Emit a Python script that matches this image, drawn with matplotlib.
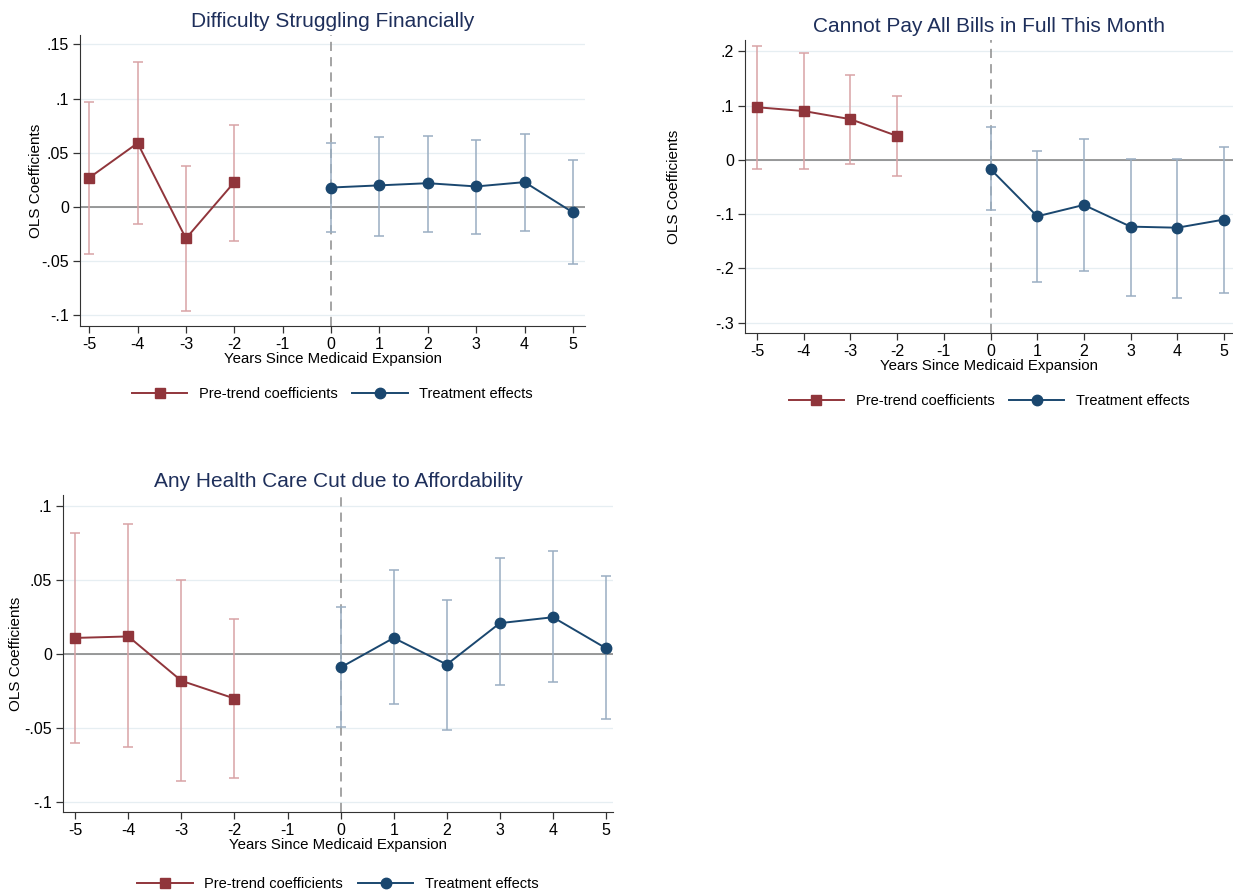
import numpy as np
import matplotlib.pyplot as plt

plt.rcParams["font.family"] = ["Liberation Sans", "DejaVu Sans"]

pre_years = [-5, -4, -3, -2]
post_years = [0, 1, 2, 3, 4, 5]
xticks = [-5, -4, -3, -2, -1, 0, 1, 2, 3, 4, 5]

# panel 1: Difficulty Struggling Financially
fin_pre = [0.027, 0.059, -0.029, 0.023]
fin_pre_lo = [-0.043, -0.016, -0.096, -0.031]
fin_pre_hi = [0.097, 0.134, 0.038, 0.076]
fin_post = [0.018, 0.020, 0.022, 0.019, 0.023, -0.005]
fin_post_lo = [-0.023, -0.027, -0.023, -0.025, -0.022, -0.053]
fin_post_hi = [0.059, 0.065, 0.066, 0.062, 0.067, 0.043]

# panel 2: Cannot Pay All Bills in Full This Month
bills_pre = [0.097, 0.090, 0.075, 0.044]
bills_pre_lo = [-0.016, -0.016, -0.008, -0.029]
bills_pre_hi = [0.209, 0.197, 0.157, 0.117]
bills_post = [-0.017, -0.104, -0.083, -0.123, -0.125, -0.110]
bills_post_lo = [-0.093, -0.225, -0.204, -0.250, -0.255, -0.246]
bills_post_hi = [0.061, 0.017, 0.038, 0.002, 0.002, 0.023]

# panel 3: Any Health Care Cut due to Affordability
hc_pre = [0.011, 0.012, -0.018, -0.030]
hc_pre_lo = [-0.060, -0.063, -0.086, -0.084]
hc_pre_hi = [0.082, 0.088, 0.050, 0.024]
hc_post = [-0.009, 0.011, -0.007, 0.021, 0.025, 0.004]
hc_post_lo = [-0.049, -0.034, -0.051, -0.021, -0.019, -0.044]
hc_post_hi = [0.032, 0.057, 0.037, 0.065, 0.070, 0.053]

red = "#90353b"
red_ci = "#d9a3a6"
blue = "#1a476f"
blue_ci = "#9aaec2"
title_col = "#1e2f5b"


def event_plot(ax, title, pre, pre_lo, pre_hi, post, post_lo, post_hi, yticks, ylabels, ylim, xlim, ypad):
    for v in yticks:
        ax.axhline(v, color="#e6eef2", lw=0.9, zorder=0)
    ax.axhline(0, color="#7f7f7f", lw=1.1, zorder=1)
    ax.axvline(0, color="#8c8c8c", lw=1.1, ls=(0, (6, 4)), zorder=1)
    pre = np.array(pre)
    post = np.array(post)
    ax.errorbar(pre_years, pre, yerr=[pre - np.array(pre_lo), np.array(pre_hi) - pre],
                fmt="none", ecolor=red_ci, elinewidth=1.1, capsize=3.5, capthick=1.1, zorder=2)
    ax.errorbar(post_years, post, yerr=[post - np.array(post_lo), np.array(post_hi) - post],
                fmt="none", ecolor=blue_ci, elinewidth=1.1, capsize=3.5, capthick=1.1, zorder=2)
    ax.plot(pre_years, pre, color=red, marker="s", ms=7.5, lw=1.4, zorder=3,
            label="Pre-trend coefficients")
    ax.plot(post_years, post, color=blue, marker="o", ms=7.5, lw=1.4, zorder=3,
            label="Treatment effects")
    ax.set_xlim(xlim)
    ax.set_ylim(ylim)
    ax.set_xticks(xticks)
    ax.set_xticklabels([str(t) for t in xticks])
    ax.set_yticks(yticks)
    ax.set_yticklabels(ylabels)
    ax.tick_params(axis="both", labelsize=11.5, length=5, width=0.9, color="#333333", pad=3)
    ax.spines["top"].set_visible(False)
    ax.spines["right"].set_visible(False)
    ax.spines["left"].set_color("#333333")
    ax.spines["bottom"].set_color("#333333")
    ax.set_title(title, fontsize=15, color=title_col, pad=6)
    ax.set_xlabel("Years Since Medicaid Expansion", fontsize=10.8, labelpad=0)
    ax.set_ylabel("OLS Coefficients", fontsize=11, labelpad=ypad)
    leg = ax.legend(loc="upper center", bbox_to_anchor=(0.5, -0.165), ncol=2, frameon=False,
                    fontsize=10.5, handlelength=3.8, columnspacing=1.0, handletextpad=0.8)
    return leg


fig = plt.figure(figsize=(12.33, 8.92), dpi=100)

ax1 = fig.add_axes([0.0649, 0.6345, 0.4096, 0.3262])
event_plot(ax1, "Difficulty Struggling Financially",
           fin_pre, fin_pre_lo, fin_pre_hi, fin_post, fin_post_lo, fin_post_hi,
           [-0.1, -0.05, 0, 0.05, 0.1, 0.15], ["-.1", "-.05", "0", ".05", ".1", ".15"],
           (-0.1098, 0.1587), (-5.19, 5.25), -1)

ax2 = fig.add_axes([0.6042, 0.6267, 0.396, 0.3285])
event_plot(ax2, "Cannot Pay All Bills in Full This Month",
           bills_pre, bills_pre_lo, bills_pre_hi, bills_post, bills_post_lo, bills_post_hi,
           [-0.3, -0.2, -0.1, 0, 0.1, 0.2], ["-.3", "-.2", "-.1", "0", ".1", ".2"],
           (-0.319, 0.221), (-5.26, 5.2), 24.5)

ax3 = fig.add_axes([0.0511, 0.0897, 0.446, 0.355])
event_plot(ax3, "Any Health Care Cut due to Affordability",
           hc_pre, hc_pre_lo, hc_pre_hi, hc_post, hc_post_lo, hc_post_hi,
           [-0.1, -0.05, 0, 0.05, 0.1], ["-.1", "-.05", "0", ".05", ".1"],
           (-0.1068, 0.1075), (-5.23, 5.13), 1)

fig.savefig("out.png", dpi=100)
